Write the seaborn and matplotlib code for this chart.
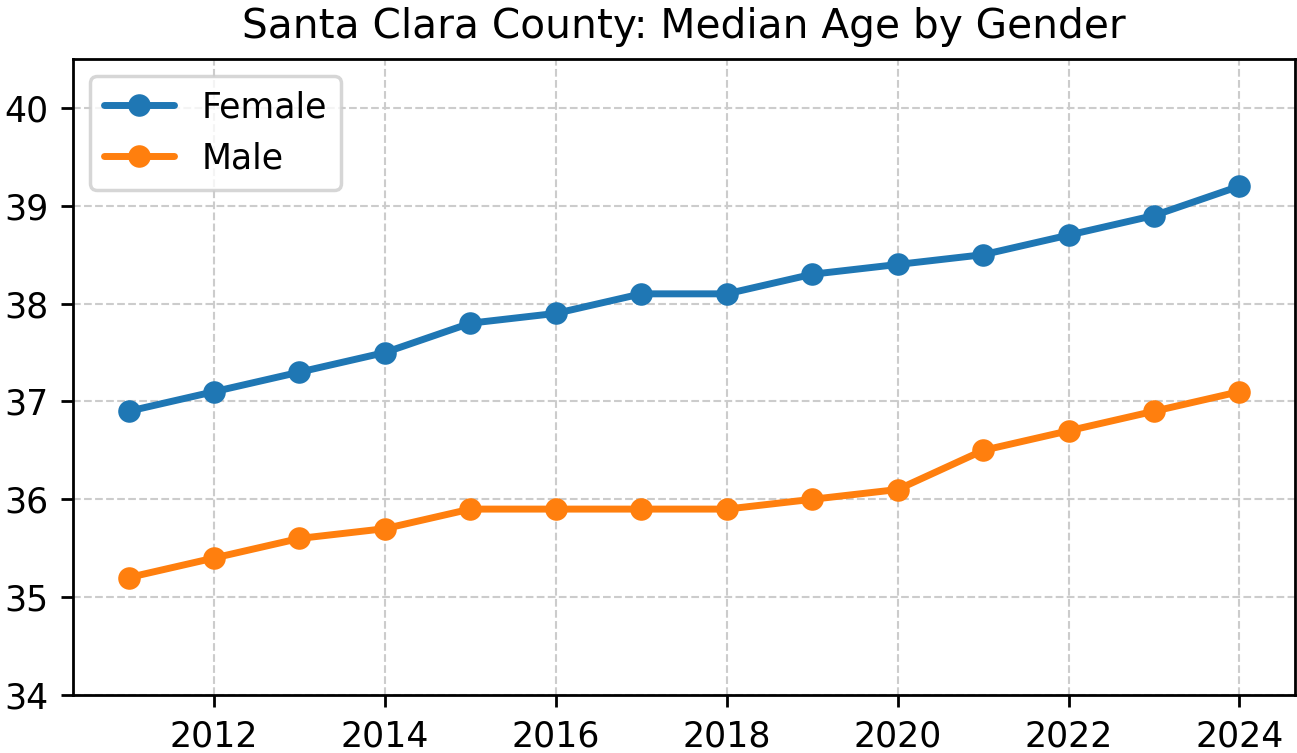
import matplotlib
matplotlib.use("Agg")
import matplotlib.pyplot as plt
import seaborn as sns
import pandas as pd

years = [2011, 2012, 2013, 2014, 2015, 2016, 2017, 2018, 2019, 2020, 2021, 2022, 2023, 2024]
female = [36.9, 37.1, 37.3, 37.5, 37.8, 37.9, 38.1, 38.1, 38.3, 38.4, 38.5, 38.7, 38.9, 39.2]
male = [35.2, 35.4, 35.6, 35.7, 35.9, 35.9, 35.9, 35.9, 36.0, 36.1, 36.5, 36.7, 36.9, 37.1]
series_names = ["Female", "Male"]
title = "Santa Clara County: Median Age by Gender"

df = pd.DataFrame({
    "Year": years * 2,
    "Age": female + male,
    "Gender": [series_names[0]] * len(years) + [series_names[1]] * len(years),
})

sns.set_style("ticks")
plt.rcParams['font.family'] = ['DejaVu Sans']
plt.rcParams['text.color'] = 'black'
plt.rcParams['axes.labelcolor'] = 'black'
plt.rcParams['xtick.color'] = 'black'
plt.rcParams['ytick.color'] = 'black'

dpi = 250
fig = plt.figure(figsize=(1297 / dpi, 753 / dpi), dpi=dpi)
ax = fig.add_axes([73 / 1297, 1 - 695 / 753, (1295 - 73) / 1297, (695 - 59) / 753])

sns.lineplot(data=df, x="Year", y="Age", hue="Gender",
             palette=["#1f77b4", "#ff7f0e"], marker="o", markersize=6.5,
             markeredgewidth=0, linewidth=2, ax=ax)

ax.set_xlim(2010.35, 2024.65)
ax.set_ylim(34, 40.5)
ax.set_xticks([2012, 2014, 2016, 2018, 2020, 2022, 2024])
ax.set_yticks([34, 35, 36, 37, 38, 39, 40])
ax.grid(True, linestyle="--", color="#cccccc", linewidth=0.6)
ax.set_xlabel("")
ax.set_ylabel("")
ax.set_title(title, fontsize=11.7, color="black")
for s in ax.spines.values():
    s.set_visible(True)
    s.set_color("black")
    s.set_linewidth(0.8)
ax.tick_params(labelsize=10, colors="black", length=3.5, width=0.8)
leg = ax.legend(loc="upper left", fontsize=10, title=None)
for t in leg.get_texts():
    t.set_color("black")

fig.savefig("out.png", dpi=dpi)
